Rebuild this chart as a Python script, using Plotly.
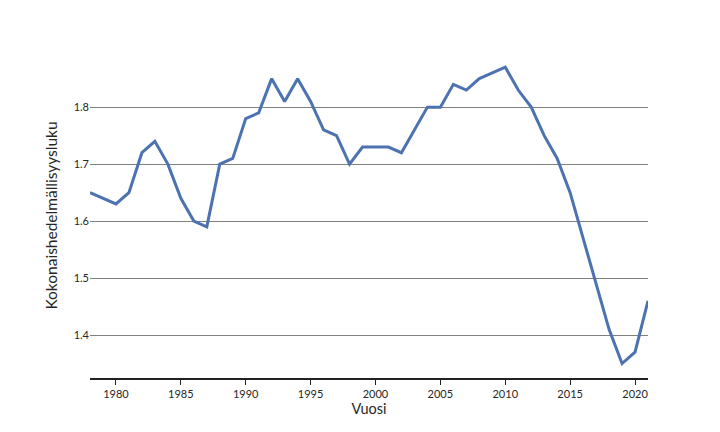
import plotly.graph_objects as go

years = list(range(1978, 2022))
tfr = [1.65, 1.64, 1.63, 1.65, 1.72, 1.74, 1.70, 1.64, 1.60, 1.59,
       1.70, 1.71, 1.78, 1.79, 1.85, 1.81, 1.85, 1.81, 1.76, 1.75,
       1.70, 1.73, 1.73, 1.73, 1.72, 1.76, 1.80, 1.80, 1.84, 1.83,
       1.85, 1.86, 1.87, 1.83, 1.80, 1.75, 1.71, 1.65, 1.57, 1.49,
       1.41, 1.35, 1.37, 1.46]
x_ticks = [1980, 1985, 1990, 1995, 2000, 2005, 2010, 2015, 2020]
y_ticks = [1.4, 1.5, 1.6, 1.7, 1.8]

fig = go.Figure(go.Scatter(x=years, y=tfr, mode="lines",
                           line=dict(color="#4C72B0", width=3)))

fig.update_layout(
    width=720, height=432,
    margin=dict(l=90, r=72, t=53, b=54),
    paper_bgcolor="white", plot_bgcolor="white",
    font=dict(family="Lato", color="#262626"),
    showlegend=False,
    xaxis=dict(
        range=[1978, 2021], tickvals=x_ticks, showgrid=False,
        showline=True, linecolor="#222222", linewidth=1.5,
        ticks="outside", ticklen=5, tickcolor="#222222",
        tickfont=dict(size=11),
        title=dict(text="Vuosi", font=dict(size=14.5), standoff=1),
        zeroline=False,
    ),
    yaxis=dict(
        range=[1.3246, 1.895], tickvals=y_ticks,
        tickformat=".1f", showgrid=True, gridcolor="#808080", gridwidth=1,
        showline=False, ticks="", tickfont=dict(size=11),
        title=dict(text="Kokonaishedelmällisyysluku", font=dict(size=15.5), standoff=12),
        zeroline=False,
    ),
)

fig.write_html("out.html")
